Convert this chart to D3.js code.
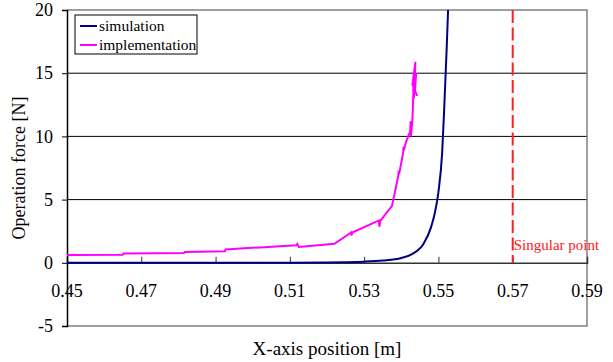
<!DOCTYPE html>
<html>
<head>
<meta charset="utf-8">
<script src="https://cdn.jsdelivr.net/npm/d3@7"></script>
</head>
<body style="margin:0">
<svg id="chart" width="613" height="362" font-family="Liberation Serif"></svg>
<script>
// data
var simX = [0.45, 0.47, 0.49, 0.50, 0.51, 0.52, 0.525, 0.53, 0.535, 0.54, 0.543, 0.546, 0.548, 0.549, 0.550, 0.551, 0.5516, 0.5522, 0.5526];
var simY = [0, 0, 0, 0.005, 0.01, 0.03, 0.05, 0.09, 0.18, 0.38, 0.7, 1.5, 2.8, 3.9, 5.6, 8.7, 12.5, 16.8, 20];
var implX = [0.450, 0.4650, 0.4652, 0.4815, 0.4817, 0.4925, 0.4927, 0.5020, 0.5117, 0.5120, 0.5124, 0.5220, 0.5265, 0.5266, 0.5268, 0.5340, 0.5341, 0.5343, 0.5375, 0.5392, 0.5393, 0.5394, 0.5405, 0.5406, 0.5407, 0.5412, 0.5424, 0.5425, 0.5426, 0.5430, 0.5433, 0.5430, 0.5438, 0.5434, 0.5436, 0.5432, 0.5440, 0.5437, 0.5443];
var implY = [0.62, 0.64, 0.74, 0.77, 0.86, 0.92, 1.06, 1.22, 1.38, 1.50, 1.25, 1.50, 2.40, 2.15, 2.40, 3.35, 2.85, 3.30, 4.50, 6.90, 7.30, 7.00, 8.70, 9.20, 8.90, 9.50, 10.4, 11.2, 10.0, 11.3, 13.9, 14.1, 15.9, 13.0, 14.9, 13.5, 15.0, 13.6, 13.2];
var xTicks = [0.45, 0.47, 0.49, 0.51, 0.53, 0.55, 0.57, 0.59];
var yTicks = [-5, 0, 5, 10, 15, 20];
var singularX = 0.57;
var seriesNames = ['simulation', 'implementation'];
var seriesColors = ['#000080', '#ff00ff'];

var FONT = '"Liberation Serif"';
var width = 613, height = 362;
var margin = { top: 10, right: 26, bottom: 36, left: 67 };
var w = width - margin.left - margin.right;
var h = height - margin.top - margin.bottom;

var svg = d3.select('#chart')
  .append('g')
  .attr('transform', 'translate(' + margin.left + ',' + margin.top + ')');

var xScale = d3.scaleLinear().domain([0.45, 0.59]).range([0, w]);
var yScale = d3.scaleLinear().domain([-5, 20]).range([h, 0]);

// grid lines
svg.selectAll('.grid')
  .data([5, 10, 15])
  .enter().append('line')
  .attr('x1', 0).attr('x2', w)
  .attr('y1', function (d) { return yScale(d); })
  .attr('y2', function (d) { return yScale(d); })
  .attr('stroke', '#000').attr('stroke-width', 1);

// frame (top, right, bottom in grey)
svg.append('path')
  .attr('d', 'M0,0H' + w + 'V' + h + 'H0')
  .attr('fill', 'none').attr('stroke', '#808080').attr('stroke-width', 1.5);

// x axis at y = 0, ticks pointing up
var xAxis = d3.axisTop(xScale).tickValues(xTicks).tickSize(6).tickFormat('');
svg.append('g')
  .attr('transform', 'translate(0,' + yScale(0) + ')')
  .call(xAxis)
  .call(function (g) {
    g.select('.domain').attr('stroke', '#333').attr('stroke-width', 1.5);
    g.selectAll('.tick line').attr('stroke', '#333');
  });
svg.selectAll('.xlab')
  .data(xTicks)
  .enter().append('text')
  .attr('x', function (d) { return xScale(d); })
  .attr('y', yScale(0) + 34)
  .attr('text-anchor', 'middle')
  .style('font-family', FONT)
  .style('font-size', '18px')
  .text(function (d) { return d3.format('.2f')(d); });

// y axis
var yAxis = d3.axisLeft(yScale).tickValues(yTicks).tickSize(5).tickPadding(9)
  .tickFormat(function (d) { return String(d); });
svg.append('g')
  .call(yAxis)
  .call(function (g) {
    g.attr('font-family', null);
    g.select('.domain').attr('stroke', '#000').attr('stroke-width', 1.5);
    g.selectAll('.tick line').attr('stroke', '#000');
    g.selectAll('.tick text')
      .style('font-family', FONT)
      .style('font-size', '18px').attr('fill', '#000');
  });

// singular point
svg.append('line')
  .attr('x1', xScale(singularX)).attr('x2', xScale(singularX))
  .attr('y1', 0).attr('y2', yScale(0))
  .attr('stroke', '#ff2020').attr('stroke-width', 2)
  .attr('stroke-dasharray', '13,4.5');
svg.append('text')
  .attr('x', xScale(singularX) + 1)
  .attr('y', yScale(0) - 13)
  .attr('fill', '#ff2020')
  .style('font-family', FONT)
  .style('font-size', '15px')
  .text('Singular point');

var line = d3.line()
  .x(function (d) { return xScale(d[0]); })
  .y(function (d) { return yScale(d[1]); });

svg.append('path')
  .datum(d3.zip(simX, simY))
  .attr('d', line.curve(d3.curveMonotoneX))
  .attr('fill', 'none').attr('stroke', seriesColors[0]).attr('stroke-width', 2);

svg.append('path')
  .datum(d3.zip(implX, implY))
  .attr('d', line.curve(d3.curveLinear))
  .attr('fill', 'none').attr('stroke', seriesColors[1]).attr('stroke-width', 2);

// legend
var legend = svg.append('g').attr('transform', 'translate(8,5)');
legend.append('rect')
  .attr('width', 122).attr('height', 39)
  .attr('fill', '#fff').attr('stroke', '#000').attr('stroke-width', 1);
seriesNames.forEach(function (name, i) {
  var y = 11 + i * 19;
  legend.append('line')
    .attr('x1', 5).attr('x2', 22).attr('y1', y).attr('y2', y)
    .attr('stroke', seriesColors[i]).attr('stroke-width', 2);
  legend.append('text')
    .attr('x', 24).attr('y', y + 5)
    .style('font-family', FONT)
    .style('font-size', '15.5px')
    .text(name);
});

// axis titles
svg.append('text')
  .attr('x', w / 2)
  .attr('y', h + 29)
  .attr('text-anchor', 'middle')
  .style('font-family', FONT)
  .style('font-size', '19px')
  .text('X-axis position [m]');
svg.append('text')
  .attr('transform', 'translate(' + (-42) + ',' + 158 + ') rotate(-90)')
  .attr('text-anchor', 'middle')
  .style('font-family', FONT)
  .style('font-size', '18px')
  .text('Operation force [N]');
</script>
</body>
</html>
